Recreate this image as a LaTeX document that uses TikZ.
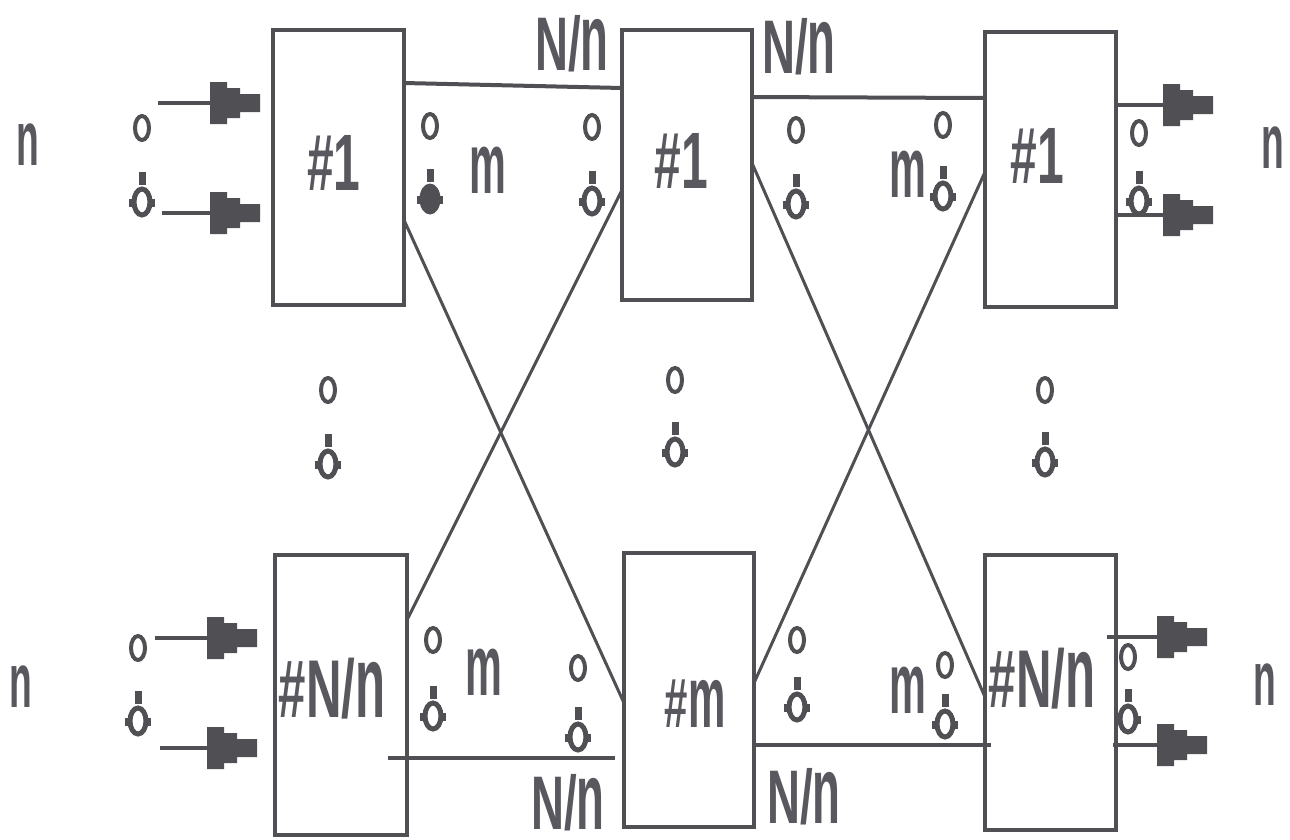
\documentclass[tikz,border=0pt]{standalone}
\usepackage{fontspec}
\usepackage{graphicx}
\newfontfamily\lab{Liberation Sans}[FakeStretch=0.6]
\newcommand\lc[1]{\scalebox{1}[1.25]{#1}}
\definecolor{ink}{HTML}{505054}
\definecolor{txt}{HTML}{58585E}

% stepped, pixel-like arrow head
\pgfdeclarearrow{
  name = Blocky,
  setup code = {
    \pgfarrowssettipend{0pt}
    \pgfarrowssetbackend{-50pt}
    \pgfarrowssetlineend{-30pt}
    \pgfarrowsupperhullpoint{-50pt}{21pt}
    \pgfarrowsupperhullpoint{0pt}{9pt}
  },
  drawing code = {
    \pgfpathmoveto{\pgfpoint{0pt}{9pt}}
    \pgfpathlineto{\pgfpoint{-20pt}{9pt}}
    \pgfpathlineto{\pgfpoint{-20pt}{15pt}}
    \pgfpathlineto{\pgfpoint{-33pt}{15pt}}
    \pgfpathlineto{\pgfpoint{-33pt}{21pt}}
    \pgfpathlineto{\pgfpoint{-50pt}{21pt}}
    \pgfpathlineto{\pgfpoint{-50pt}{-21pt}}
    \pgfpathlineto{\pgfpoint{-33pt}{-21pt}}
    \pgfpathlineto{\pgfpoint{-33pt}{-15pt}}
    \pgfpathlineto{\pgfpoint{-20pt}{-15pt}}
    \pgfpathlineto{\pgfpoint{-20pt}{-9pt}}
    \pgfpathlineto{\pgfpoint{0pt}{-9pt}}
    \pgfpathclose
    \pgfusepathqfill
  }
}

\tikzset{
  box/.style={draw=ink, line width=4pt, inner sep=0pt, outer sep=0pt},
  wire/.style={draw=ink, line width=4pt},
  cross/.style={draw=ink, line width=3pt},
  feed/.style={draw=ink, fill=ink, line width=4.5pt, -Blocky},
  lbl/.style={text=txt, inner sep=0pt, outer sep=0pt, anchor=base,
              font=\lab\bfseries\fontsize{#1}{#1}\selectfont},
  pics/dotO/.style={code={
    \draw[ink, line width=4pt] (0,0) ellipse (7pt and 12pt);}},
  pics/dotD/.style={code={
    \fill[ink] (-3.5,-30) rectangle (3.5,-17);
    \fill[ink] (-13,-3) rectangle (13,5);
    \fill[white] (-8,-3) rectangle (8,5);
    \draw[ink, line width=5pt] (0,0) ellipse (8pt and 13pt);}},
  pics/dotF/.style={code={
    \fill[ink] (-3.5,-30) rectangle (3.5,-17);
    \fill[ink] (-13,-3) rectangle (13,5);
    \fill[ink] (0,0) ellipse (10.5pt and 15.5pt);}},
}

\begin{document}
\begin{tikzpicture}[x=1pt, y=-1pt]
  \useasboundingbox (0,0) rectangle (1290,839);
  \fill[white] (0,0) rectangle (1290,839);

  % switch modules
  \node[box, minimum width=131pt, minimum height=275pt] (L1) at (338.5,167.5) {};
  \node[box, minimum width=130pt, minimum height=270pt] (M1) at (687,165) {};
  \node[box, minimum width=131pt, minimum height=275pt] (R1) at (1050.5,169.5) {};
  \node[box, minimum width=132pt, minimum height=280pt] (L2) at (341,695) {};
  \node[box, minimum width=130pt, minimum height=274pt] (M2) at (689,690) {};
  \node[box, minimum width=131pt, minimum height=275pt] (R2) at (1050.5,692.5) {};

  % module numbers
  \node[lbl=80] (tL1) at (334,190) {\#1};
  \node[lbl=80] (tM1) at (681,188) {\#1};
  \node[lbl=80] (tR1) at (1037,183) {\#1};
  \node[lbl=82] (tL2) at (332,717) {\#N/\lc{n}};
  \node[lbl=70] (tM2) at (695,727) {\#\lc{m}};
  \node[lbl=82] (tR2) at (1042,707) {\#N/\lc{n}};

  % links between stages
  \draw[wire] (L1.east |- 0,83) -- (M1.west |- 0,88);
  \draw[wire] (M1.east |- 0,97) -- (R1.west |- 0,98);
  \draw[wire] ([xshift=-19pt]L2.east |- 0,758) -- ([xshift=-9pt]M2.west |- 0,758);
  \draw[wire] (M2.east |- 0,745) -- ([xshift=6pt]R2.west |- 0,745);
  \draw[cross] (L1.east |- 0,220) -- (M2.west |- 0,703);
  \draw[cross] (L2.east |- 0,620) -- (M1.west |- 0,190);
  \draw[cross] (M1.east |- 0,163) -- (R2.west |- 0,697);
  \draw[cross] (M2.east |- 0,683) -- (R1.west |- 0,172);

  % inputs and outputs
  \coordinate (a1) at (158,103);  \coordinate (b1) at (260,103);
  \coordinate (a2) at (162,213);  \coordinate (b2) at (260,213);
  \coordinate (a3) at (155,638);  \coordinate (b3) at (257,638);
  \coordinate (a4) at (160,748);  \coordinate (b4) at (257,748);
  \coordinate (c1) at (1213,105); \coordinate (c2) at (1213,215);
  \coordinate (c3) at (1207,637); \coordinate (c4) at (1207,745);
  \draw[feed] (a1) -- (b1);
  \draw[feed] (a2) -- (b2);
  \draw[feed] (a3) -- (b3);
  \draw[feed] (a4) -- (b4);
  \draw[feed] (R1.east |- c1) -- (c1);
  \draw[feed] (R1.east |- c2) -- (c2);
  \draw[feed] ([xshift=-9pt]R2.east |- c3) -- (c3);
  \draw[feed] ([xshift=-3pt]R2.east |- c4) -- (c4);

  % vertical ellipses
  \foreach \x/\yo/\yd in {142/128/202, 138/648/721, 592/127/201, 796/130/204,
      943/125/196, 1139/133/201, 328/390/464, 675/380/452, 1045/390/462,
      433/640/716, 578/668/737, 797/640/707, 945/665/724, 1128/657/719}{
    \pic at (\x,\yo) {dotO};
    \pic at (\x,\yd) {dotD};
  }
  \pic at (430,126) {dotO};
  \pic at (430,199) {dotF};

  % group sizes
  \node[lbl=62] (n1) at (28,165) {\lc{n}};
  \node[lbl=62] (n2) at (21,707) {\lc{n}};
  \node[lbl=62] (n3) at (1273,168) {\lc{n}};
  \node[lbl=62] (n4) at (1265,705) {\lc{n}};
  \node[lbl=69] (m1) at (488,193) {\lc{m}};
  \node[lbl=69] (m2) at (908,197) {\lc{m}};
  \node[lbl=69] (m3) at (484,695) {\lc{m}};
  \node[lbl=69] (m4) at (908,713) {\lc{m}};
  \node[lbl=76] (k1) at (572,70) {N/\lc{n}};
  \node[lbl=76] (k2) at (799,73) {N/\lc{n}};
  \node[lbl=76] (k3) at (568,829) {N/\lc{n}};
  \node[lbl=76] (k4) at (804,823) {N/\lc{n}};
\end{tikzpicture}
\end{document}
